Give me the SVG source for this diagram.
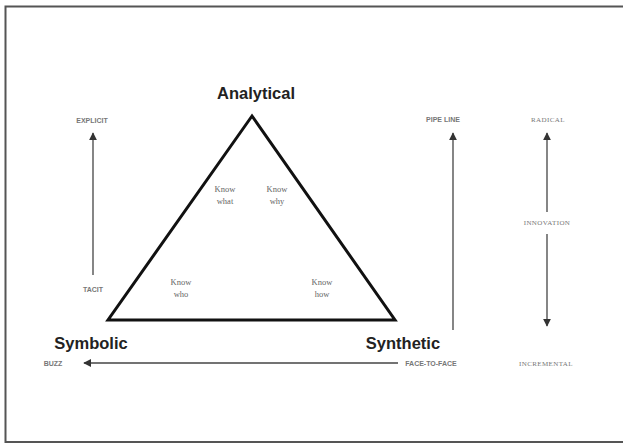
<svg xmlns="http://www.w3.org/2000/svg" width="623" height="445" viewBox="0 0 623 445">
<defs>
<marker id="ah" viewBox="0 0 10 10" refX="9" refY="5" markerWidth="8" markerHeight="8" orient="auto-start-reverse" markerUnits="userSpaceOnUse">
<path d="M0,0 L10,5 L0,10 z" fill="#333"/>
</marker>
<style>
.big{font-family:"Liberation Sans",Arial,sans-serif;font-weight:bold;font-size:16.5px;fill:#222;text-anchor:middle}
.sm{font-family:"Liberation Sans",Arial,sans-serif;font-weight:bold;font-size:7px;fill:#777;text-anchor:middle}
.sr{font-family:"Liberation Serif","Times New Roman",serif;font-size:7px;fill:#777;text-anchor:middle;letter-spacing:0.4px}
.kn{font-family:"Liberation Serif","Times New Roman",serif;font-size:8.5px;fill:#666;text-anchor:middle}
.ln{stroke:#444;stroke-width:1.3;fill:none}
</style>
</defs>
<rect x="0" y="0" width="623" height="445" fill="#fff"/>
<rect x="5.5" y="6.5" width="620" height="435.5" fill="none" stroke="#555" stroke-width="2"/>
<g id="triangle">
<polygon points="252,116 108,320 395,320" fill="none" stroke="#111" stroke-width="3" stroke-linejoin="miter"/>
</g>
<g id="analytical"><text class="big" x="256" y="99">Analytical</text></g>
<g id="symbolic"><text class="big" x="91" y="349">Symbolic</text></g>
<g id="synthetic"><text class="big" x="403" y="349">Synthetic</text></g>
<g id="know-what"><text class="kn" x="225" y="192">Know</text><text class="kn" x="225" y="204">what</text></g>
<g id="know-why"><text class="kn" x="277" y="192">Know</text><text class="kn" x="277" y="204">why</text></g>
<g id="know-who"><text class="kn" x="181" y="285">Know</text><text class="kn" x="181" y="297">who</text></g>
<g id="know-how"><text class="kn" x="322" y="285">Know</text><text class="kn" x="322" y="297">how</text></g>
<g id="explicit"><text class="sm" x="92" y="123">EXPLICIT</text></g>
<g id="tacit"><text class="sm" x="93" y="292">TACIT</text></g>
<g id="pipeline"><text class="sm" x="443" y="122">PIPE LINE</text></g>
<g id="radical"><text class="sr" x="548" y="122">RADICAL</text></g>
<g id="innovation"><text class="sr" x="547" y="225">INNOVATION</text></g>
<g id="buzz"><text class="sm" x="53" y="366">BUZZ</text></g>
<g id="face"><text class="sm" x="431" y="366">FACE-TO-FACE</text></g>
<g id="incremental"><text class="sr" x="546" y="366">INCREMENTAL</text></g>
<g id="connectors">
<line class="ln" x1="398" y1="363" x2="84" y2="363" marker-end="url(#ah)"/>
<line class="ln" x1="93" y1="275" x2="93" y2="133" marker-end="url(#ah)"/>
<line class="ln" x1="453" y1="330" x2="453" y2="133" marker-end="url(#ah)"/>
<line class="ln" x1="547" y1="212" x2="547" y2="133" marker-end="url(#ah)"/>
<line class="ln" x1="547" y1="234" x2="547" y2="326" marker-end="url(#ah)"/>
</g>
</svg>
